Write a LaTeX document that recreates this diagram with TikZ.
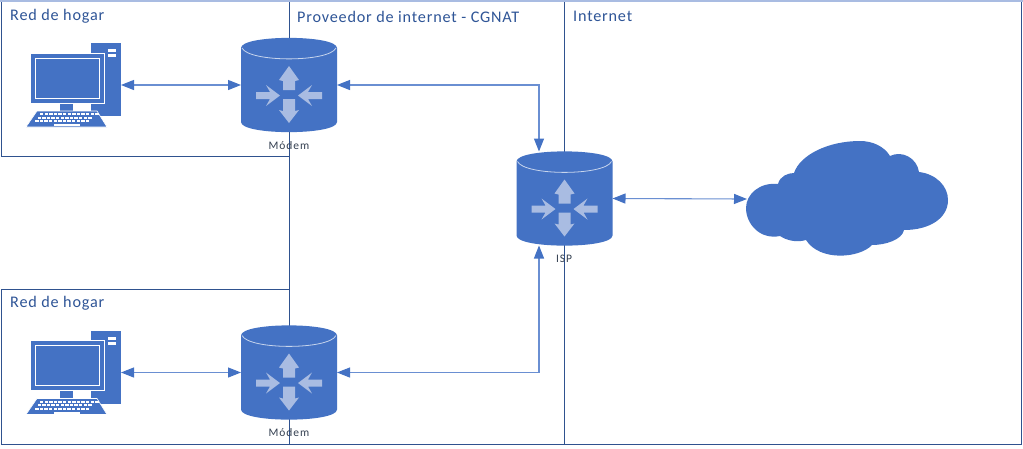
\documentclass[tikz,border=0pt]{standalone}
\usepackage{fontspec}
\setmainfont{Carlito}
\usetikzlibrary{arrows.meta}
\definecolor{fillblue}{HTML}{4472C4}
\definecolor{lightarrow}{HTML}{A9BCE2}
\definecolor{framec}{HTML}{2F528F}
\definecolor{linkc}{HTML}{6A8FD2}
\definecolor{titlec}{HTML}{2F5597}
\definecolor{labelc}{HTML}{333F50}
\newfontfamily\titlefont[LetterSpace=5]{Carlito}
\newfontfamily\labelfont[LetterSpace=8]{Carlito}
\tikzset{
  frameline/.style={draw=framec,line width=1pt},
  link/.style={draw=linkc,line width=1.1pt,{Stealth[length=13pt,width=10pt,color=fillblue,inset=0pt]}-{Stealth[length=13pt,width=10pt,color=fillblue,inset=0pt]}},
  anchorbox/.style={inner sep=0pt,outer sep=0pt,minimum width=#1},
  titletext/.style={anchor=west,text=titlec,font=\titlefont\fontsize{16.2}{18}\selectfont,inner sep=0pt},
  labeltext/.style={text=labelc,font=\labelfont\fontsize{11.5}{13}\selectfont,inner sep=0pt},
  pics/routericon/.style={code={
    \fill[fillblue] (-48,-37) .. controls (-48,-50.5) and (48,-50.5) .. (48,-37)
       -- (48,37) .. controls (48,50.5) and (-48,50.5) .. (-48,37) -- cycle;
    \draw[white!70!fillblue,line width=0.8pt] (-47,-37) .. controls (-40,-22.5) and (40,-22.5) .. (47,-37);
    \fill[lightarrow] (-6,5) -- (-6,-4) -- (-10,-5) -- (0,-19) -- (10,-5) -- (6,-4) -- (6,5) -- cycle;
    \fill[lightarrow] (-6,14) -- (6,14) -- (6,26) -- (10,25) -- (0,38) -- (-10,25) -- (-6,26) -- cycle;
    \fill[lightarrow] (-33,7) -- (-19,7) -- (-23,0) -- (-9,10.5) -- (-23,21) -- (-19,14) -- (-33,14) -- cycle;
    \fill[lightarrow] (33,7) -- (19,7) -- (23,0) -- (9,10.5) -- (23,21) -- (19,14) -- (33,14) -- cycle;
  }},
  pics/pcicon/.style={code={
    % origin: left-top of the 95 x 84 icon box
    \fill[fillblue] (65,0) rectangle (95,73);
    \fill[white] (82,6) rectangle (90,9);
    \fill[white] (82,11) rectangle (90,14);
    \draw[fill=fillblue,draw=white,line width=0.8pt] (4,10) rectangle (78,60);
    \draw[white,line width=0.9pt] (9,15) rectangle (73,55);
    \fill[fillblue] (34,60.5) rectangle (47,68);
    \draw[fill=fillblue,draw=white,line width=0.6pt] (11,68) -- (71,68) -- (81,84) -- (0,84) -- cycle;
    \foreach \r/\u in {71/12,74.5/11,78/11}{
      \foreach \i in {0,...,\u}{
        \fill[white] ({14+\i*4.6-(\r-71)*0.7},{\r-0.8}) rectangle ++(3.4,2);
      }
    }
    \fill[white] (28,81) rectangle (54,83);
  }}
}
\begin{document}
\begin{tikzpicture}[x=1pt,y=-1pt]
\useasboundingbox (0,0) rectangle (1023,448);
\fill[white] (0,0) rectangle (1023,448);
% frames
\coordinate (split1T) at (289,0);
\coordinate (split1B) at (289,444);
\coordinate (split2T) at (564.5,0);
\coordinate (split2B) at (564.5,444);
\draw[frameline] (1,444) -- (1021,444) -- (1021,1);
\draw[frameline] (1,1) rectangle (289,156);
\draw[frameline] (1,289) rectangle (289,444);
\draw[frameline] (split1T) -- (split1B);
\draw[frameline] (split2T) -- (split2B);
\draw[draw=lightarrow,line width=1.2pt] (0,1) -- (1023,1);
% anchors
\node[anchorbox=96,minimum height=94] (modemA) at (289,85) {};
\node[anchorbox=96,minimum height=94] (modemB) at (289,372.5) {};
\node[anchorbox=96,minimum height=94] (isp) at (564.5,198.5) {};
\node[anchorbox=95,minimum height=84] (pcA) at (73.5,85) {};
\node[anchorbox=95,minimum height=84] (pcB) at (73.5,372.5) {};
\node[anchorbox=202,minimum height=116] (cloud) at (848,199) {};
% links
\draw[link] (pcA.east) -- (modemA.west);
\draw[link] (pcB.east) -- (modemB.west);
\draw[link] (isp.east) -- (cloud.west);
\draw[link] (modemA.east) -| ([xshift=-25.5pt]isp.north);
\draw[link] (modemB.east) -| ([xshift=-25.5pt]isp.south);
% icons
\pic at (modemA.center) {routericon};
\pic at (modemB.center) {routericon};
\pic at (isp.center) {routericon};
\pic at (pcA.north west) {pcicon};
\pic at (pcB.north west) {pcicon};
% cloud
\fill[fillblue] (746,208)
  .. controls (746,194) and (760,182) .. (778,184)
  .. controls (780,176) and (788,173) .. (794,173)
  .. controls (800,155) and (828,141) .. (860,141)
  .. controls (872,141) and (884,146) .. (890,156)
  .. controls (902,150) and (917,158) .. (919,172)
  .. controls (936,174) and (948,186) .. (948,200)
  .. controls (948,218) and (930,230) .. (904,230)
  .. controls (902,240) and (885,245) .. (872,245)
  .. controls (860,258) and (820,262) .. (806,240)
  .. controls (796,243) and (786,240) .. (780,236)
  .. controls (760,240) and (746,224) .. (746,208) -- cycle;
% texts
\node[titletext] (t1) at (10,16.5) {Red de hogar};
\node[titletext] (t2) at (10,303) {Red de hogar};
\node[titletext] (t3) at (297,16.5) {Proveedor de internet - CGNAT};
\node[titletext] (t4) at (573,16.5) {Internet};
\node[labeltext] (l1) at (289,146) {Módem};
\node[labeltext] (l2) at (289,433) {Módem};
\node[labeltext] (l3) at (564,259) {ISP};
\end{tikzpicture}
\end{document}
